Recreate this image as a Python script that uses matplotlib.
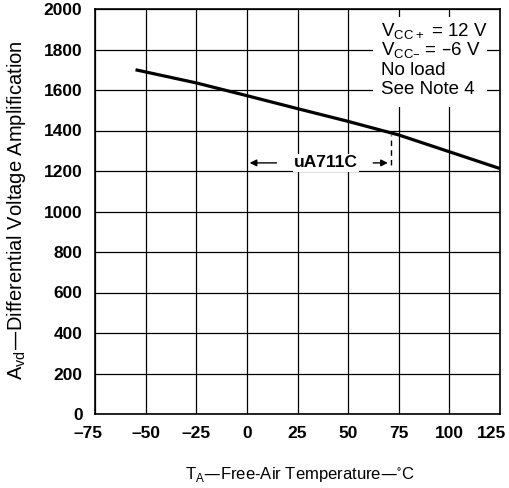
#!/usr/bin/env python3

import matplotlib
matplotlib.use('Agg')
import matplotlib.pyplot as plt
from matplotlib.patches import Rectangle
from matplotlib.transforms import ScaledTranslation

# data
temp_c = [-55, -25, 0, 25, 50, 75, 100, 125]
avd = [1700, 1635, 1572, 1508, 1445, 1378, 1295, 1212]

x_ticks = [-75, -50, -25, 0, 25, 50, 75, 100, 125]
y_ticks = [0, 200, 400, 600, 800, 1000, 1200, 1400, 1600, 1800, 2000]

notes = ['V$_\\mathregular{CC+}$ = 12 V', 'V$_\\mathregular{CC\u2013}$ = \u20136 V',
         'No load', 'See Note 4']

plt.rcParams['font.family'] = ['Liberation Sans', 'DejaVu Sans']

fig = plt.figure(figsize=(5.09, 4.88), dpi=100)
ax = fig.add_axes([95 / 509, 1 - 414 / 488, 405 / 509, 405 / 488])

ax.plot(temp_c, avd, color='black', linewidth=2.3, solid_capstyle='butt', zorder=3)

ax.set_xlim(-75, 125)
ax.set_ylim(0, 2000)
ax.set_xticks(x_ticks)
ax.set_yticks(y_ticks)
ax.set_xticklabels([str(t).replace('-', '\u2013') for t in x_ticks],
                   fontsize=12.5, fontweight='bold')
ax.set_yticklabels([str(t) for t in y_ticks], fontsize=12.5, fontweight='bold')
ax.tick_params(length=0, pad=9)
ax.grid(True, color='black', linewidth=0.9)
for s in ax.spines.values():
    s.set_linewidth(1.2)

# nudge the end labels like in the original drawing
xlabels = ax.get_xticklabels()
for lab, dx in [(xlabels[0], -5), (xlabels[-1], -6)]:
    lab.set_transform(lab.get_transform() + ScaledTranslation(dx / 72, 0, fig.dpi_scale_trans))

# axis titles placed in figure pixels
fig.text(300 / 509, 1 - 474 / 488,
         'T$_\\mathregular{A}$\u2014Free-Air Temperature\u2014$^\\mathregular{\\circ}$C',
         fontsize=12, ha='center', va='center')
fig.text(17 / 509, 1 - 210 / 488,
         'A$_\\mathregular{vd}$\u2014Differential Voltage Amplification',
         fontsize=14.5, rotation=90, ha='center', va='center')

# uA711C range marker
ax.annotate('', xy=(0, 1240), xytext=(16, 1240),
            arrowprops=dict(arrowstyle='-|>', color='black', lw=1, mutation_scale=10))
ax.annotate('', xy=(71, 1240), xytext=(61, 1240),
            arrowprops=dict(arrowstyle='-|>', color='black', lw=1, mutation_scale=10))
ax.text(39, 1240, 'uA711C', fontsize=12.5, fontweight='bold', ha='center', va='center',
        bbox=dict(facecolor='white', edgecolor='none', pad=1), zorder=4)
ax.plot([71, 71], [1230, 1380], color='black', linewidth=1, linestyle=(0, (4, 3)), zorder=3)

# conditions box: white patch hiding the grid behind the text
ax.add_patch(Rectangle((62.5, 1516), 56, 444, facecolor='white', edgecolor='none', zorder=2))
for i, line in enumerate(notes):
    ax.text(66, 1886 - i * 95, line, fontsize=13.5, ha='left', va='center', zorder=4)

fig.savefig('out.png', dpi=100)
